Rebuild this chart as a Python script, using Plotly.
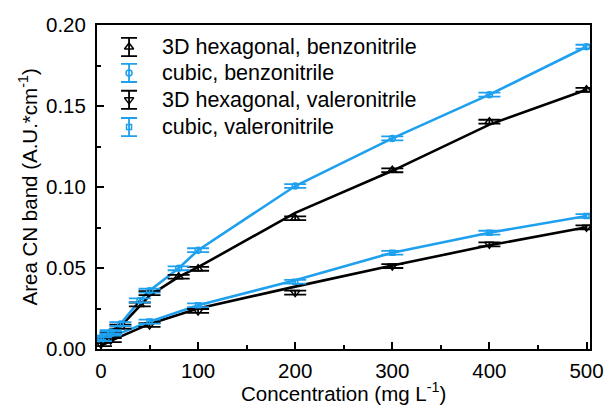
import plotly.graph_objects as go

# ---- data ----
x_benz = [0, 10, 20, 40, 50, 80, 100, 200, 300, 400, 500]
hex_benz = [0.005, 0.009, 0.0138, 0.0275, 0.0345, 0.0446, 0.0495, 0.0807, 0.1103, 0.1403, 0.1600]
cub_benz = [0.007, 0.0105, 0.0154, 0.0300, 0.0360, 0.0498, 0.0610, 0.1006, 0.1300, 0.1570, 0.1866]
hex_benz_fit = [0.003, 0.008, 0.0138, 0.0265, 0.0330, 0.0445, 0.0505, 0.0840, 0.1100, 0.1385, 0.1600]
cub_benz_fit = [0.006, 0.0105, 0.0154, 0.0300, 0.0360, 0.0498, 0.0610, 0.1006, 0.1300, 0.1570, 0.1866]

x_val = [0, 10, 50, 100, 200, 300, 400, 500]
hex_val = [0.003, 0.0055, 0.0148, 0.0235, 0.0348, 0.0512, 0.0646, 0.0751]
cub_val = [0.006, 0.0095, 0.0169, 0.0270, 0.0415, 0.0594, 0.0718, 0.0821]
hex_val_fit = [0.002, 0.0050, 0.0155, 0.0250, 0.0385, 0.0515, 0.0640, 0.0751]
cub_val_fit = [0.004, 0.0075, 0.0169, 0.0270, 0.0425, 0.0594, 0.0718, 0.0821]

err = 0.0012

legend_labels = ["3D hexagonal, benzonitrile", "cubic, benzonitrile",
                 "3D hexagonal, valeronitrile", "cubic, valeronitrile"]

BLACK = "#000000"
BLUE = "#1ea0ee"
FONT = "Liberation Sans, Arial, sans-serif"
FS = 20.5

series = [
    (x_benz, hex_benz, hex_benz_fit, BLACK, "triangle-up-open", 8),
    (x_benz, cub_benz, cub_benz_fit, BLUE, "circle-open", 6),
    (x_val, hex_val, hex_val_fit, BLACK, "triangle-down-open", 8),
    (x_val, cub_val, cub_val_fit, BLUE, "square-open", 5),
]

fig = go.Figure()

# fit lines first
for xs, ys, fit, col, sym, sz in series:
    fig.add_trace(go.Scatter(x=xs, y=fit, mode="lines", line=dict(color=col, width=2.6),
                             showlegend=False, hoverinfo="skip"))
# data points with error bars
for xs, ys, fit, col, sym, sz in series:
    fig.add_trace(go.Scatter(
        x=xs, y=ys, mode="markers",
        marker=dict(symbol=sym, size=sz, color=col, line=dict(color=col, width=1.5)),
        error_y=dict(type="constant", value=err, color=col, thickness=1.8, width=11),
        showlegend=False))

# custom legend (symbols with vertical error bars) on an overlay axis
leg_y = [0.932, 0.852, 0.769, 0.685]
leg_x = 0.065
for (xs, ys, fit, col, sym, sz), ly, lab in zip(series, leg_y, legend_labels):
    fig.add_trace(go.Scatter(
        x=[leg_x], y=[ly], xaxis="x2", yaxis="y2", mode="markers",
        marker=dict(symbol=sym, size=sz, color=col, line=dict(color=col, width=1.5)),
        error_y=dict(type="constant", value=0.028, color=col, thickness=1.8, width=8),
        showlegend=False, hoverinfo="skip"))
    fig.add_annotation(x=0.128, y=ly, xref="paper", yref="paper", text=lab,
                       showarrow=False, xanchor="left", yanchor="middle",
                       font=dict(family=FONT, size=21.5, color="black"))

axis_common = dict(showline=True, linewidth=2, linecolor="black", mirror=True,
                   ticks="inside", ticklen=7, tickwidth=2, tickcolor="black",
                   showgrid=False, zeroline=False, automargin=False,
                   tickfont=dict(family=FONT, size=FS, color="black"))

fig.update_layout(
    width=606, height=405,
    margin=dict(l=97, r=16, t=25, b=56),
    plot_bgcolor="white", paper_bgcolor="white",
    xaxis=dict(range=[-4.1, 503.6], dtick=100, tick0=0, ticklabelstandoff=2,
               minor=dict(ticks="inside", ticklen=4, tickwidth=2, dtick=50, tickcolor="black"),
               **axis_common),
    yaxis=dict(range=[0, 0.2], dtick=0.05, tick0=0, tickformat=".2f", ticklabelstandoff=5,
               minor=dict(ticks="inside", ticklen=4, tickwidth=2, dtick=0.025, tickcolor="black"),
               **axis_common),
    xaxis2=dict(range=[0, 1], overlaying="x", visible=False, fixedrange=True),
    yaxis2=dict(range=[0, 1], overlaying="y", visible=False, fixedrange=True),
    showlegend=False,
)

# axis titles as annotations for exact placement
fig.add_annotation(x=0.5, y=-0.132, xref="paper", yref="paper",
                   text="Concentration (mg L<sup>-1</sup>)", showarrow=False,
                   xanchor="center", yanchor="middle",
                   font=dict(family=FONT, size=FS, color="black"))
fig.add_annotation(x=-0.139, y=0.5, xref="paper", yref="paper",
                   text="Area CN band (A.U.*cm<sup>-1</sup>)", showarrow=False,
                   textangle=-90, xanchor="center", yanchor="middle",
                   font=dict(family=FONT, size=FS, color="black"))

fig.write_html("out.html")
